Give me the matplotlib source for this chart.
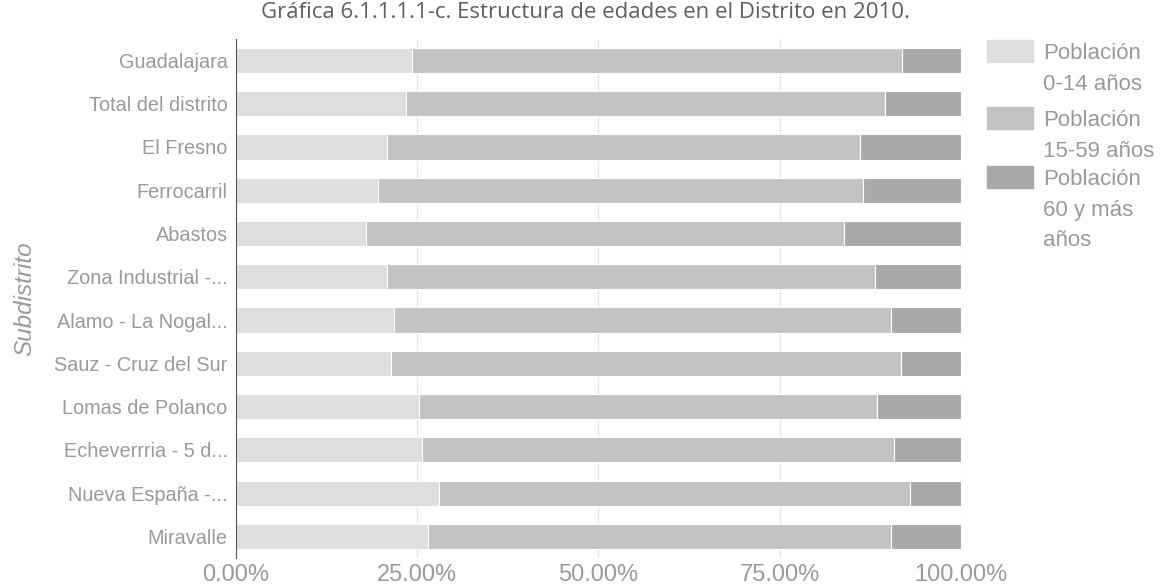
import numpy as np
import matplotlib.pyplot as plt
from matplotlib.patches import Rectangle
from matplotlib.ticker import FuncFormatter

plt.rcParams["font.family"] = ["Liberation Sans", "DejaVu Sans"]

# subdistricts, top to bottom
subdistritos = ["Guadalajara", "Total del distrito", "El Fresno", "Ferrocarril",
                "Abastos", "Zona Industrial -...", "Alamo - La Nogal...",
                "Sauz - Cruz del Sur", "Lomas de Polanco", "Echeverrria - 5 d...",
                "Nueva España -...", "Miravalle"]

# shares in %
pob_0_14 = [24.3, 23.4, 20.9, 19.6, 18.0, 20.8, 21.8, 21.4, 25.2, 25.6, 28.0, 26.5]
pob_15_59 = [67.6, 66.1, 65.1, 66.9, 65.8, 67.3, 68.5, 70.3, 63.2, 65.2, 64.9, 63.9]
pob_60_mas = [8.1, 10.5, 14.0, 13.5, 16.2, 11.9, 9.7, 8.3, 11.6, 9.2, 7.1, 9.6]

series_labels = ["Población\n0-14 años", "Población\n15-59 años", "Población\n60 y más\naños"]
series_colors = ["#dedede", "#c3c3c3", "#a9a9a9"]

TXT = "#9a9a9a"

fig = plt.figure(figsize=(11.71, 5.88), dpi=100)
ax = fig.add_axes([0.2015, 0.051, 0.6192, 0.883])

y = np.arange(len(subdistritos))
left = np.zeros(len(subdistritos))
for vals, col in zip([pob_0_14, pob_15_59, pob_60_mas], series_colors):
    v = np.array(vals)
    ax.barh(y, v, left=left, height=0.58, color=col, edgecolor="white",
            linewidth=0.8, zorder=2)
    left += v

ax.set_xlim(0, 100)
ax.set_ylim(len(subdistritos) - 0.5, -0.5)
ax.set_xticks([0, 25, 50, 75, 100])
ax.xaxis.set_major_formatter(FuncFormatter(lambda v, p: f"{v:.2f}%"))
ax.set_yticks(y)
ax.set_yticklabels(subdistritos)
ax.tick_params(axis="both", length=0, colors=TXT)
ax.tick_params(axis="y", labelsize=14.3, pad=6)
ax.tick_params(axis="x", labelsize=17, pad=4)

ax.grid(axis="x", color="#e6e6e6", linewidth=1, zorder=0)
for s in ["top", "right", "bottom"]:
    ax.spines[s].set_visible(False)
ax.spines["left"].set_color("#555555")
ax.spines["left"].set_zorder(3)

ax.set_ylabel("Subdistrito", color=TXT, fontsize=17.5, style="italic")
ax.yaxis.set_label_coords(-0.276, 0.5)

fig.text(0.5, 0.978, "Gráfica 6.1.1.1.1-c. Estructura de edades en el Distrito en 2010.",
         ha="center", va="center", fontsize=16, color="#5f5f5f", family="Open Sans")

# legend drawn by hand to keep the Google-chart look
leg_top = [1 - 40 / 588, 1 - 107 / 588, 1 - 166 / 588]
for lab, col, top in zip(series_labels, series_colors, leg_top):
    fig.patches.append(Rectangle((987 / 1171, top - 22 / 588), 46 / 1171, 22 / 588,
                                 transform=fig.transFigure, color=col))
    fig.text(1043 / 1171, top - 3 / 588, lab, ha="left", va="top", fontsize=16,
             color=TXT, linespacing=1.6)

fig.savefig("out.png", dpi=100)
